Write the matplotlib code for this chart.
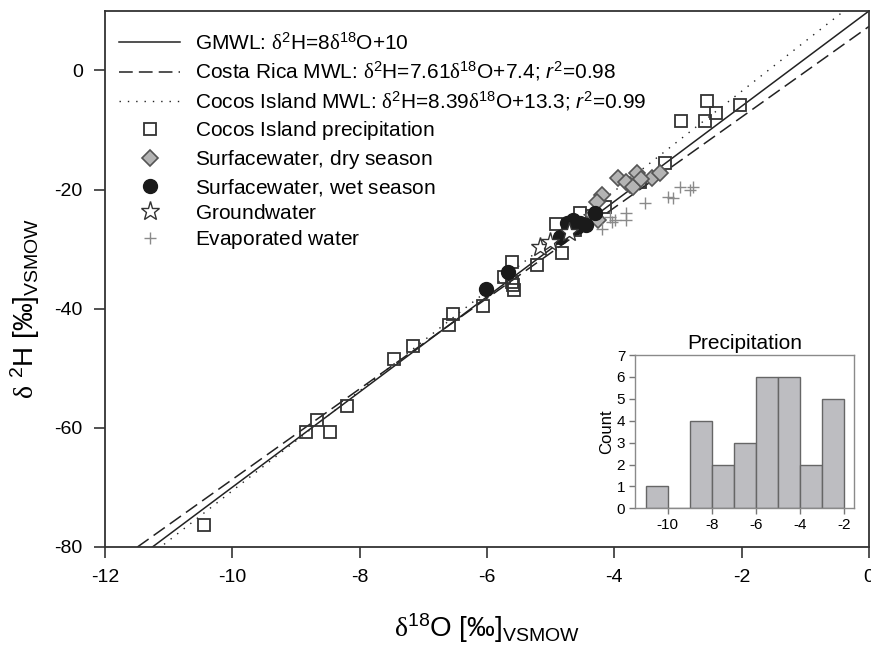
import numpy as np
import matplotlib
matplotlib.use("Agg")
import matplotlib.pyplot as plt

plt.rcParams['font.family'] = ['Liberation Sans', 'DejaVu Sans']
plt.rcParams['mathtext.fontset'] = 'custom'
plt.rcParams['mathtext.rm'] = 'Liberation Sans'
plt.rcParams['mathtext.it'] = 'Liberation Sans:italic'
plt.rcParams['mathtext.bf'] = 'Liberation Sans:bold'
plt.rcParams['mathtext.sf'] = 'Liberation Serif'
plt.rcParams['axes.unicode_minus'] = False

# meteoric water lines: (slope, intercept)
gmwl = (8.0, 10.0)
crmwl = (7.61, 7.4)
cimwl = (8.39, 13.3)

# Cocos Island precipitation
prec_o = [-10.44, -8.85, -8.67, -8.47, -8.20, -7.46, -7.17, -6.60, -6.54, -6.07,
          -5.61, -5.73, -5.60, -5.57, -5.59, -5.22, -4.91, -4.82, -4.54, -4.15,
          -4.35, -4.62, -3.20, -3.60, -2.54, -2.41, -2.57, -2.96, -2.02]
prec_h = [-76.4, -60.7, -58.7, -60.7, -56.4, -48.5, -46.3, -42.8, -40.9, -39.6,
          -32.2, -34.7, -35.5, -36.9, -36.1, -32.6, -25.8, -30.7, -24.0, -22.9,
          -24.5, -26.8, -15.6, -18.8, -5.05, -7.08, -8.42, -8.42, -5.8]

# surface water, dry season
dry_o = [-3.94, -3.75, -3.65, -3.81, -3.70, -3.41, -3.28, -4.20, -4.28, -4.33, -4.25, -3.58]
dry_h = [-18.1, -19.3, -17.3, -18.7, -19.5, -18.1, -17.3, -20.9, -22.1, -24.3, -25.2, -18.3]

# surface water, wet season
wet_o = [-4.30, -4.65, -4.54, -4.44, -4.75, -4.70, -4.86, -4.59, -5.67, -6.01]
wet_h = [-24.0, -25.2, -25.7, -26.0, -25.7, -26.6, -28.0, -26.3, -33.9, -36.7]

# groundwater
gw_o = [-4.72, -5.17, -5.01]
gw_h = [-27.1, -29.7, -28.8]

# evaporated water
evap_o = [-4.07, -3.99, -3.81, -3.81, -4.20, -4.04, -3.52, -3.15, -3.08, -2.97, -2.81, -2.76]
evap_h = [-24.6, -25.2, -24.0, -25.2, -26.6, -25.4, -22.3, -21.2, -21.5, -19.5, -20.0, -19.6]

hist_bins = [-11, -10, -9, -8, -7, -6, -5, -4, -3, -2]

fig = plt.figure(figsize=(8.71, 6.45), dpi=100)
ax = fig.add_axes([0.1206, 0.1524, 0.8771, 0.8306])

strut = r'$^{\,}$'  # keeps legend rows the same height as the formula rows

xl = np.array([-12.0, 0.5])
ax.plot(xl, gmwl[0] * xl + gmwl[1], color='#222222', lw=1.1, zorder=2,
        label=r'GMWL: $\mathsf{\delta}^2$H=8$\mathsf{\delta}^{18}$O+10')
ax.plot(xl, crmwl[0] * xl + crmwl[1], color='#222222', lw=1.1, dashes=[9, 4], zorder=2,
        label=r'Costa Rica MWL: $\mathsf{\delta}^2$H=7.61$\mathsf{\delta}^{18}$O+7.4; $r^2$=0.98')
ax.plot(xl, cimwl[0] * xl + cimwl[1], color='#222222', lw=1.0, ls=(0, (1, 5)), zorder=2,
        label=r'Cocos Island MWL: $\mathsf{\delta}^2$H=8.39$\mathsf{\delta}^{18}$O+13.3; $r^2$=0.99')

ax.plot(prec_o, prec_h, 's', ms=9, mfc='none', mec='#333333', mew=1.3, zorder=3,
        label='Cocos Island precipitation' + strut)
ax.plot(dry_o, dry_h, 'D', ms=8, mfc='#b4b4b4', mec='#555555', mew=1.2, zorder=4,
        label='Surfacewater, dry season' + strut)
ax.plot(wet_o, wet_h, 'o', ms=10, mfc='#1a1a1a', mec='#1a1a1a', zorder=5,
        label='Surfacewater, wet season' + strut)
ax.plot(gw_o, gw_h, '*', ms=14, mfc='white', mec='#333333', mew=1.0, zorder=6,
        label='Groundwater' + strut)
ax.plot(evap_o, evap_h, '+', ms=9, mec='#8a8a8a', mew=1.0, zorder=6,
        label='Evaporated water' + strut)

ax.set_xlim(-12, 0)
ax.set_ylim(-80, 10)
ax.set_xticks(np.arange(-12, 1, 2))
ax.set_yticks(np.arange(-80, 1, 20))
ax.tick_params(direction='out', length=8, width=1.2, color='#333333',
               labelsize=14, pad=8)
for s in ax.spines.values():
    s.set_color('#333333')
    s.set_linewidth(1.3)

ax.set_xlabel(r'$\mathsf{\delta}^{18}$O [‰]$_{\mathrm{VSMOW}}$', fontsize=20, labelpad=18)
ax.set_ylabel(r'$\mathsf{\delta}$ ${}^{2}$H [‰]$_{\mathrm{VSMOW}}$', fontsize=20)
ax.yaxis.set_label_coords(-0.082, 0.444)

ax.legend(loc='upper left', bbox_to_anchor=(0.018, 0.961), frameon=False, fontsize=15,
          handlelength=2.95, handletextpad=0.72, labelspacing=0.28, numpoints=1,
          borderaxespad=0, borderpad=0)

# inset histogram
ins = fig.add_axes([0.729, 0.2119, 0.2514, 0.2377])
ins.hist(prec_o, bins=hist_bins, color='#bdbdc1', edgecolor='#666666', linewidth=1.0)
ins.set_xlim(-11.48, -1.56)
ins.set_ylim(0, 7)
ins.set_xticks([-10, -8, -6, -4, -2])
ins.set_yticks(range(0, 8))
ins.tick_params(direction='out', length=4, width=1, color='#777777', labelsize=11, pad=3)
for s in ins.spines.values():
    s.set_color('#8a8a8a')
    s.set_linewidth(1.0)
ins.set_ylabel('Count', fontsize=12, labelpad=2)
ins.set_title('Precipitation', fontsize=15, pad=4)

fig.savefig('out.png', dpi=100)
